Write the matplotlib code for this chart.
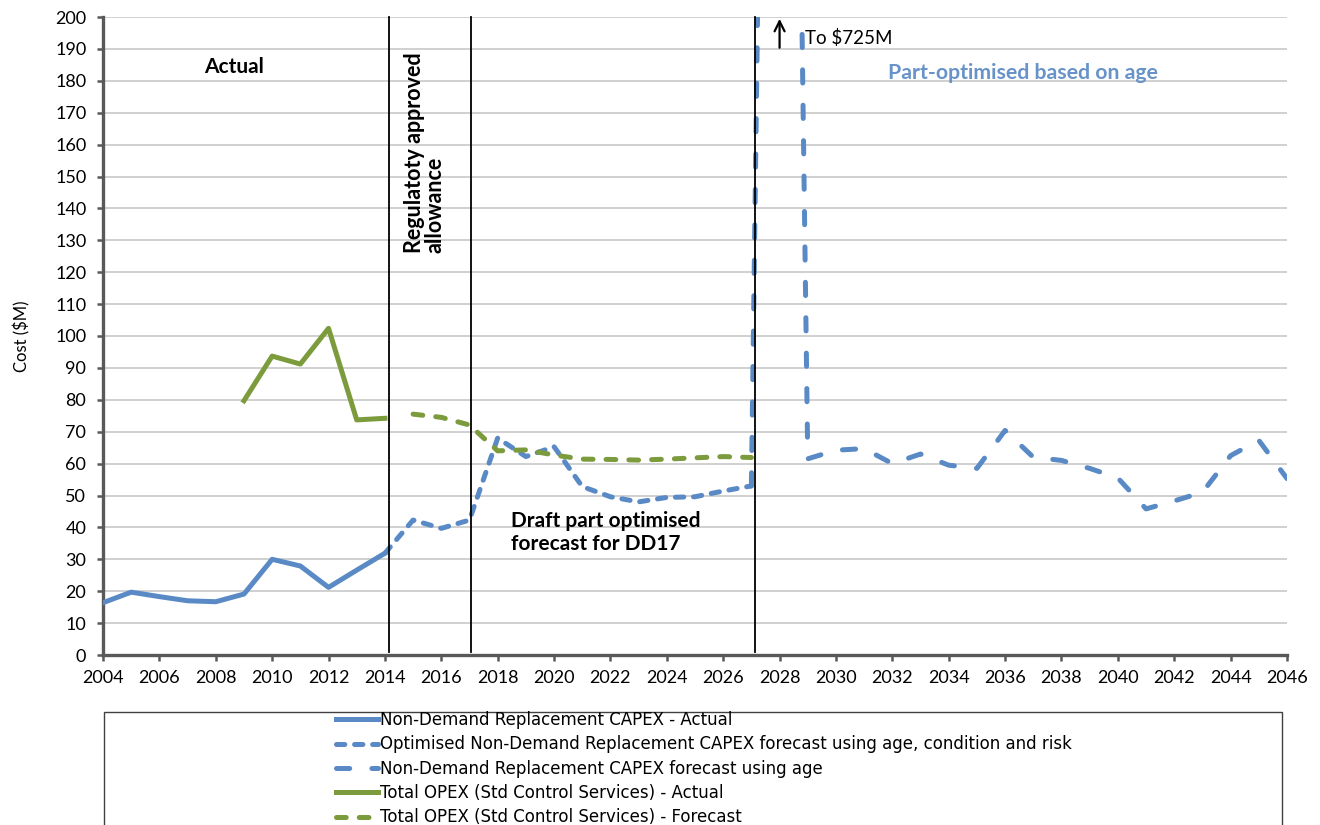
import matplotlib
matplotlib.use("Agg")
import matplotlib.pyplot as plt
from matplotlib.lines import Line2D
from matplotlib.patches import Rectangle

plt.rcParams["font.family"] = ["Lato", "DejaVu Sans"]
plt.rcParams["lines.scale_dashes"] = False

# ---- data ($M) ----
years_capex_actual = list(range(2004, 2015))
capex_actual = [16.4, 19.7, 18.3, 17.0, 16.7, 19.1, 30.0, 27.9, 21.2, 26.6, 31.9]

years_capex_opt = list(range(2014, 2028))
capex_opt = [31.9, 42.3, 39.7, 42.3, 68.0, 62.2, 65.3, 52.8, 49.6, 48.0, 49.4, 49.6, 51.4, 53.0]

years_capex_age = list(range(2027, 2047))
capex_age = [53.0, 725.0, 61.5, 64.2, 64.7, 60.0, 63.0, 59.5, 58.5, 70.4, 62.0, 61.0,
             58.5, 55.5, 45.8, 48.3, 51.0, 62.5, 67.3, 55.3]

years_opex_actual = list(range(2009, 2015))
opex_actual = [79.7, 93.7, 91.2, 102.4, 73.7, 74.2]

years_opex_fc = list(range(2015, 2028))
opex_fc = [75.5, 74.5, 72.1, 64.0, 64.3, 62.7, 61.4, 61.3, 61.1, 61.4, 61.8, 62.2, 61.9]

period_marks = [2014.15, 2017.05, 2027.12]

labels = [
    "Non-Demand Replacement CAPEX - Actual",
    "Optimised Non-Demand Replacement CAPEX forecast using age, condition and risk",
    "Non-Demand Replacement CAPEX forecast using age",
    "Total OPEX (Std Control Services) - Actual",
    "Total OPEX (Std Control Services) - Forecast",
]

BLUE = "#5a8ac6"
GREEN = "#7b9b3c"
AXIS = "#595959"
LW = 3.6

OPT_DASH = (0, (6.0, 7.0))
AGE_DASH = (0, (9.5, 16.0))
OPEX_DASH = (0, (7.0, 9.4))

fig = plt.figure(figsize=(13.2, 8.25), dpi=100)
ax = fig.add_axes([103 / 1320, 170 / 825, 1184 / 1320, 638 / 825])

l1, = ax.plot(years_capex_actual, capex_actual, color=BLUE, lw=LW,
              solid_joinstyle="round", zorder=4)
l2, = ax.plot(years_capex_opt, capex_opt, color=BLUE, lw=LW, ls=OPT_DASH,
              dash_capstyle="round", dash_joinstyle="round", zorder=4)
l3, = ax.plot(years_capex_age, capex_age, color=BLUE, lw=LW, ls=AGE_DASH,
              dash_capstyle="round", dash_joinstyle="round", zorder=4)
l4, = ax.plot(years_opex_actual, opex_actual, color=GREEN, lw=LW,
              solid_joinstyle="round", zorder=4)
l5, = ax.plot(years_opex_fc, opex_fc, color=GREEN, lw=LW, ls=OPEX_DASH,
              dash_capstyle="round", dash_joinstyle="round", zorder=4)

for xm in period_marks:
    ax.plot([xm, xm], [1, 200], color="black", lw=1.3, zorder=5, clip_on=False)

ax.set_xlim(2004, 2046)
ax.set_ylim(0, 200)
ax.set_xticks(range(2004, 2047, 2))
ax.set_yticks(range(0, 201, 10))
ax.yaxis.grid(True, color="#c8c8c8", lw=1.2)
ax.set_axisbelow(True)
for s in ("top", "right"):
    ax.spines[s].set_visible(False)
for s in ("left", "bottom"):
    ax.spines[s].set_color(AXIS)
    ax.spines[s].set_linewidth(2.4)
ax.tick_params(axis="both", direction="out", length=4, width=1.8, color=AXIS,
               labelsize=13, labelcolor="black")
ax.tick_params(axis="y", pad=8)
ax.tick_params(axis="x", pad=7)
ax.set_ylabel("Cost ($M)", fontsize=12, labelpad=18)

# annotations
ax.text(2008.65, 182.4, "Actual", ha="center", va="baseline", fontsize=15,
        fontweight="bold")
ax.text(2015.42, 126.0, "Regulatoty approved\nallowance", rotation=90,
        ha="center", va="bottom", multialignment="left", fontsize=15.5,
        fontweight="bold", linespacing=1.0)
ax.text(2018.47, 33.0, "Draft part optimised\nforecast for DD17", ha="left",
        va="baseline", fontsize=15, fontweight="bold", linespacing=1.15)
ax.text(2036.65, 180.5, "Part-optimised based on age", ha="center",
        va="baseline", fontsize=15.3, fontweight="bold", color="#6893c9")
ax.text(2028.9, 191.4, "To $725M", ha="left", va="baseline", fontsize=13.5)
ax.annotate("", xy=(2028.0, 200.3), xytext=(2028.0, 189.5),
            arrowprops=dict(arrowstyle="->", color="black", lw=1.6,
                            mutation_scale=18), annotation_clip=False)

# legend box runs off the bottom edge
fig.patches.append(Rectangle((104 / 1320, -0.05), 1178 / 1320, (825 - 712) / 825 + 0.05,
                             transform=fig.transFigure, facecolor="white",
                             edgecolor="#404040", lw=1.0, zorder=0))
handles = [
    Line2D([], [], color=BLUE, lw=LW),
    Line2D([], [], color=BLUE, lw=LW, ls=OPT_DASH, dash_capstyle="round"),
    Line2D([], [], color=BLUE, lw=LW, ls=AGE_DASH, dash_capstyle="round"),
    Line2D([], [], color=GREEN, lw=LW),
    Line2D([], [], color=GREEN, lw=LW, ls=OPEX_DASH, dash_capstyle="round"),
]
fig.legend(handles, labels, loc="upper left",
           bbox_to_anchor=(336 / 1320, 1 - 711 / 825), frameon=False,
           handlelength=2.5, handletextpad=0.15, labelspacing=0.38,
           borderpad=0, borderaxespad=0,
           prop={"family": ["Liberation Sans Narrow", "DejaVu Sans"], "size": 12})

fig.savefig("out.png", dpi=100)
